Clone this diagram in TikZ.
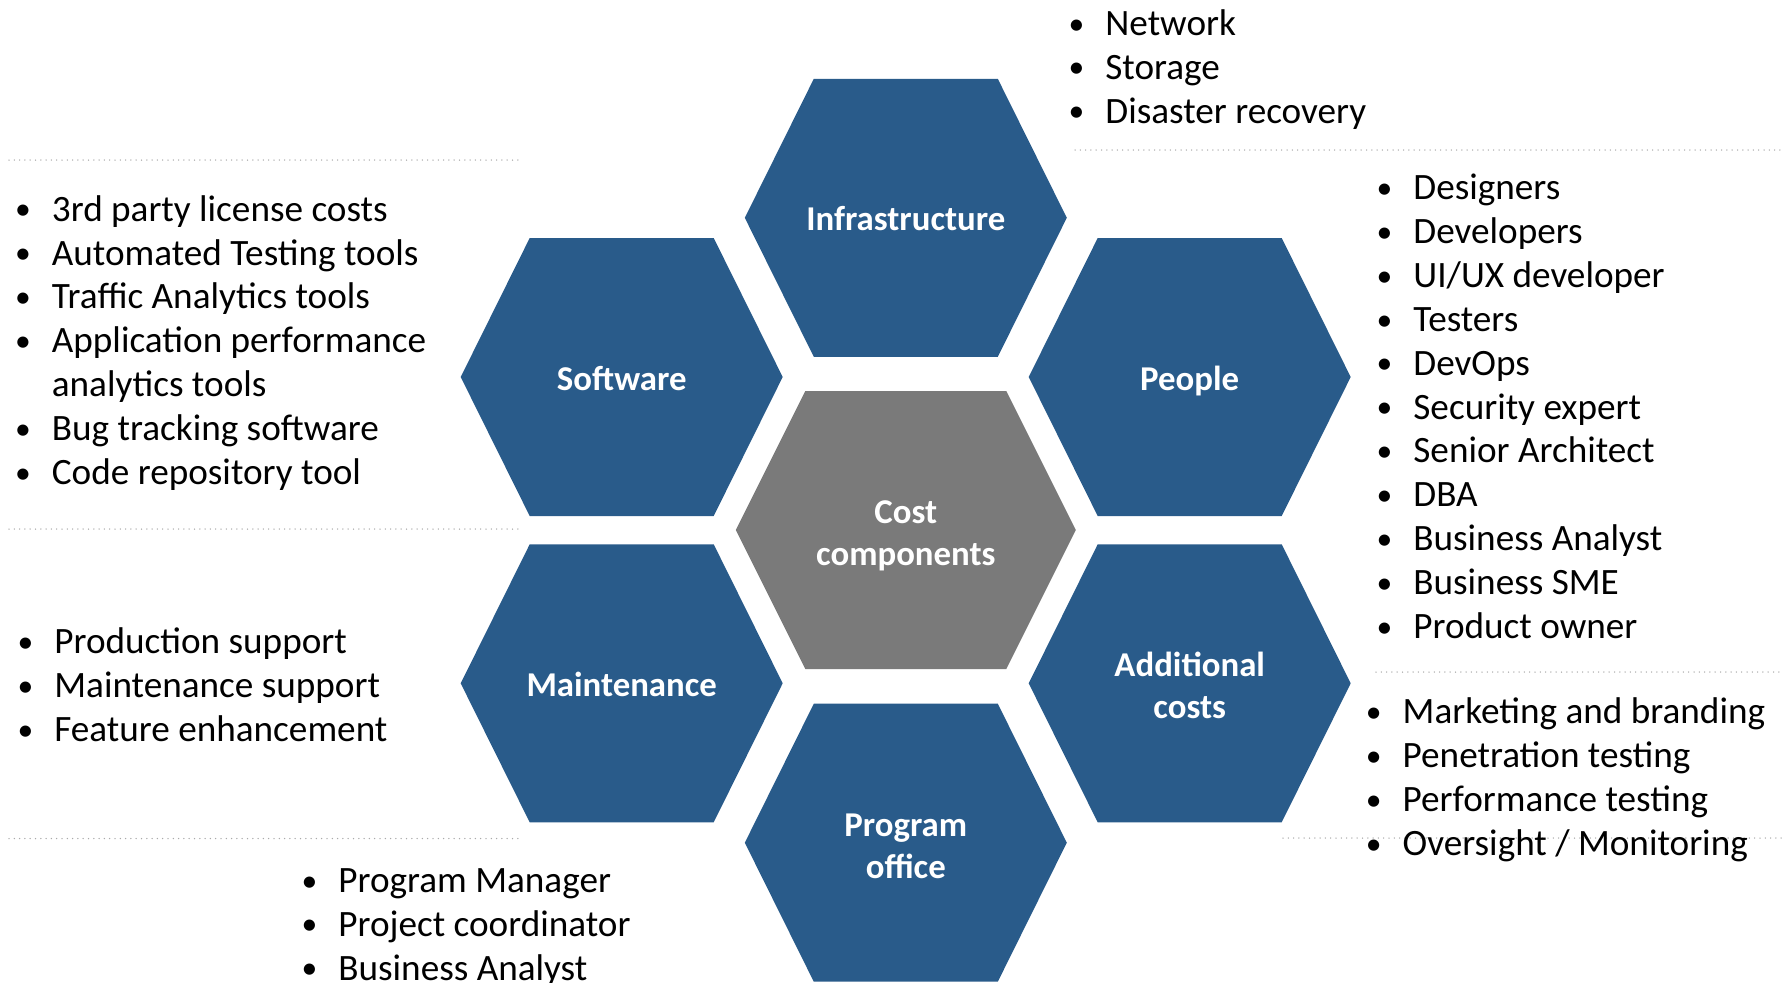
\documentclass[tikz,border=0pt]{standalone}
\usepackage{fontspec}
\setmainfont{Carlito}
\definecolor{hexblue}{RGB}{41,91,138}
\definecolor{hexgray}{RGB}{122,122,122}
\definecolor{dotgray}{RGB}{170,170,170}
\tikzset{
  hexlabel/.style={text=white, font=\bfseries\fontsize{17.4}{21}\selectfont, align=center, inner sep=0pt, anchor=base},
  listtext/.style={font=\fontsize{18.6}{21.95}\selectfont, align=left, inner sep=0pt, anchor=base west},
  sepline/.style={draw=dotgray, line width=0.75pt, line cap=round, dash pattern=on 0pt off 2.65pt},
  bluehex/.style={fill=hexblue},
  grayhex/.style={fill=hexgray},
}
\newcommand\hexshape[6]{%
  \fill[#6] (#1-#3,#2) -- (#1-#4,#2-#5) -- (#1+#4,#2-#5) -- (#1+#3,#2) -- (#1+#4,#2+#5) -- (#1-#4,#2+#5) -- cycle;}
\newcommand\bu{\makebox[0pt]{\raisebox{0.6pt}{\scalebox{0.85}{•}}}\hspace{14.5pt}}
\begin{document}
\begin{tikzpicture}[x=0.5pt,y=-0.5pt]
\useasboundingbox (0,0) rectangle (1784,982);
% hexagons
\hexshape{905.8}{217.8}{161}{92}{139}{bluehex}
\hexshape{621.7}{377}{161}{92}{139}{bluehex}
\hexshape{1189.7}{377}{161}{92}{139}{bluehex}
\hexshape{905.8}{530}{170}{100.5}{139}{grayhex}
\hexshape{621.7}{683.3}{161}{92}{139}{bluehex}
\hexshape{1189.7}{683.3}{161}{92}{139}{bluehex}
\hexshape{905.8}{842.7}{161}{92}{139}{bluehex}
% labels (anchor = baseline of last line)
\node[hexlabel] (infra) at (905.8,230) {Infrastructure};
\node[hexlabel] (soft) at (621.7,390) {Software};
\node[hexlabel] (people) at (1189.7,390) {People};
\node[hexlabel] (cost) at (905.8,565.3) {Cost\\components};
\node[hexlabel] (maint) at (621.7,696) {Maintenance};
\node[hexlabel] (addl) at (1189.7,718) {Additional\\costs};
\node[hexlabel] (prog) at (905.8,878) {Program\\office};
% dotted separators
\coordinate (d1a) at (1075,150); \coordinate (d1b) at (1784,150);
\coordinate (d2a) at (9,160);    \coordinate (d2b) at (523,160);
\coordinate (d3a) at (9,529);    \coordinate (d3b) at (523,529);
\coordinate (d4a) at (9,838.5);  \coordinate (d4b) at (523,838.5);
\coordinate (d5a) at (1376,672); \coordinate (d5b) at (1784,672);
\coordinate (d6a) at (1283,838); \coordinate (d6b) at (1784,838);
\draw[sepline] (d1a) -- (d1b);
\draw[sepline] (d2a) -- (d2b);
\draw[sepline] (d3a) -- (d3b);
\draw[sepline] (d4a) -- (d4b);
\draw[sepline] (d5a) -- (d5b);
\draw[sepline] (d6a) -- (d6b);
% lists (anchor = baseline of last line)
\node[listtext] (infralist) at (1076,123) {\bu Network\\\bu Storage\\\bu Disaster recovery};
\node[listtext] (peoplelist) at (1384,638.5) {\bu Designers\\\bu Developers\\\bu UI/UX developer\\\bu Testers\\\bu DevOps\\\bu Security expert\\\bu Senior Architect\\\bu DBA\\\bu Business Analyst\\\bu Business SME\\\bu Product owner};
\node[listtext] (softlist) at (22.5,484.5) {\bu 3rd party license costs\\\bu Automated Testing tools\\\bu Traffic Analytics tools\\\bu Application performance\\\hspace*{14.5pt}analytics tools\\\bu Bug tracking software\\\bu Code repository tool};
\node[listtext] (maintlist) at (25,741.5) {\bu Production support\\\bu Maintenance support\\\bu Feature enhancement};
\node[listtext] (proglist) at (309,980) {\bu Program Manager\\\bu Project coordinator\\\bu Business Analyst};
\node[listtext] (addllist) at (1373.3,855.5) {\bu Marketing and branding\\\bu Penetration testing\\\bu Performance testing\\\bu Oversight / Monitoring};
\end{tikzpicture}
\end{document}
